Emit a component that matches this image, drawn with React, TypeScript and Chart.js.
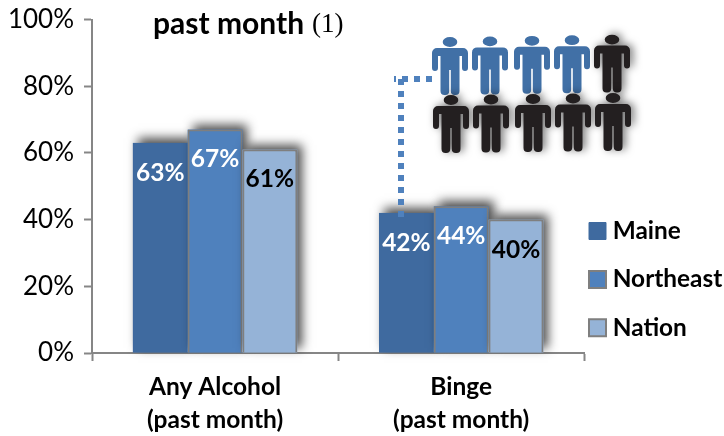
import React, { useEffect, useRef } from "react";
import { Chart, registerables } from "chart.js";

Chart.register(...registerables);

const categories = [["Any Alcohol", "(past month)"], ["Binge", "(past month)"]];
const maine = [63, 42];
const northeast = [67, 44];
const nation = [61, 40];
const seriesNames = ["Maine", "Northeast", "Nation"];
const fills = ["#3f6a9f", "#4f81bd", "#95b3d7"];
const edges = ["#3f6a9f", "#7f7f7f", "#7f7f7f"];
const labelColors = ["#ffffff", "#ffffff", "#000000"];
const titleBold = "past month";
const titleNote = "(1)";
// pictogram: two rows of five people, the first four of the top row highlighted
const peopleTop = ["#4170a6", "#4170a6", "#4170a6", "#4170a6", "#231f20"];
const peopleBottom = ["#231f20", "#231f20", "#231f20", "#231f20", "#231f20"];
const peopleColumns = [432, 472, 514, 554, 594];

function person(ctx: CanvasRenderingContext2D, x: number, y: number, color: string) {
  ctx.save();
  ctx.translate(x + 18, y);
  if (color === "#231f20") {
    ctx.shadowColor = "rgba(0,0,0,0.55)";
    ctx.shadowBlur = 8;
    ctx.shadowOffsetX = 3;
    ctx.shadowOffsetY = -1;
  }
  ctx.fillStyle = color;
  ctx.beginPath();
  ctx.ellipse(0, 5, 7.3, 4.9, 0, 0, Math.PI * 2);
  ctx.moveTo(-13, 11);
  ctx.arcTo(-18, 11, -18, 16, 5);
  ctx.lineTo(-18, 31);
  ctx.arcTo(-18, 34, -15, 34, 3);
  ctx.arcTo(-12, 34, -12, 31, 3);
  ctx.lineTo(-12, 19);
  ctx.lineTo(-9.5, 19);
  ctx.lineTo(-9.5, 54);
  ctx.arcTo(-9.5, 58, -5, 58, 4);
  ctx.arcTo(-0.8, 58, -0.8, 54, 4);
  ctx.lineTo(-0.8, 33);
  ctx.lineTo(0.8, 33);
  ctx.lineTo(0.8, 54);
  ctx.arcTo(0.8, 58, 5, 58, 4);
  ctx.arcTo(9.5, 58, 9.5, 54, 4);
  ctx.lineTo(9.5, 19);
  ctx.lineTo(12, 19);
  ctx.lineTo(12, 31);
  ctx.arcTo(12, 34, 15, 34, 3);
  ctx.arcTo(18, 34, 18, 31, 3);
  ctx.lineTo(18, 16);
  ctx.arcTo(18, 11, 13, 11, 5);
  ctx.closePath();
  ctx.fill();
  ctx.restore();
}

const decorations = {
  id: "decorations",
  afterLayout(chart: any) {
    const l = chart.legend;
    l.left = 570.5;
    l.top -= 72;
    l.bottom -= 72;
  },
  beforeDatasetsDraw(chart: any) {
    const ctx = chart.ctx;
    chart.data.datasets.forEach((_: any, i: number) => {
      const meta = chart.getDatasetMeta(i);
      ctx.save();
      ctx.shadowColor = "rgba(0,0,0,0.7)";
      ctx.shadowBlur = 10;
      ctx.shadowOffsetX = 5;
      ctx.shadowOffsetY = -5;
      ctx.fillStyle = fills[i];
      meta.data.forEach((bar: any) => {
        const { x, y, width, base } = bar.getProps(["x", "y", "width", "base"]);
        ctx.fillRect(x - width / 2, y, width, base - y);
      });
      ctx.restore();
      meta.controller.draw();
    });
  },
  beforeDatasetDraw() {
    return false;
  },
  afterDatasetsDraw(chart: any) {
    const ctx = chart.ctx;
    ctx.save();
    ctx.textAlign = "center";
    ctx.textBaseline = "middle";
    ctx.font = "bold 24.5px Lato";
    chart.data.datasets.forEach((ds: any, i: number) => {
      ctx.fillStyle = labelColors[i];
      chart.getDatasetMeta(i).data.forEach((bar: any, j: number) => {
        ctx.fillText(ds.data[j] + "%", bar.x, bar.y + 30);
      });
    });
    // title
    ctx.textAlign = "left";
    ctx.fillStyle = "#000000";
    ctx.font = "bold 30px Lato";
    ctx.fillText(titleBold, 153, 24);
    ctx.font = "27px 'Liberation Serif'";
    ctx.fillText(titleNote, 312, 25);
    // connector
    ctx.strokeStyle = "#4f81bd";
    ctx.lineWidth = 6;
    ctx.setLineDash([6, 6]);
    ctx.beginPath();
    ctx.moveTo(432, 79);
    ctx.lineTo(394, 79);
    ctx.stroke();
    ctx.beginPath();
    ctx.moveTo(401, 79);
    ctx.lineTo(401, 222);
    ctx.stroke();
    ctx.setLineDash([]);
    // pictogram
    peopleColumns.forEach((x, i) => {
      person(ctx, x, 37 - i * 0.6, peopleTop[i]);
      person(ctx, x + 1, 95 - i * 0.5, peopleBottom[i]);
    });
    ctx.restore();
  },
};

export default function App() {
  const ref = useRef<HTMLCanvasElement>(null);
  useEffect(() => {
    const chart = new Chart(ref.current!, {
      type: "bar",
      data: {
        labels: categories,
        datasets: [maine, northeast, nation].map((data, i) => ({
          label: seriesNames[i],
          data,
          backgroundColor: fills[i],
          borderColor: edges[i],
          borderWidth: i === 0 ? 1 : 2,
          categoryPercentage: 0.668,
          barPercentage: 1,
        })),
      },
      options: {
        animation: false,
        responsive: false,
        layout: { padding: { top: 19.5, right: -22, left: 0, bottom: 0 } },
        plugins: {
          title: { display: false },
          tooltip: { enabled: false },
          legend: {
            position: "right",
            align: "end",
            labels: {
              usePointStyle: true,
              pointStyle: "rect",
              boxWidth: 6,
              boxHeight: 17,
              padding: 24,
              color: "#000000",
              font: { family: "Lato", weight: "bold", size: 24.4 },
            },
          },
        },
        scales: {
          x: {
            afterFit(s: any) {
              s.height = 83;
            },
            border: { color: "#868686", width: 2 },
            grid: { drawOnChartArea: false, color: "#868686", tickLength: 8, tickWidth: 2, offset: true },
            ticks: {
              color: "#000000",
              padding: 10,
              maxRotation: 0,
              font: { family: "Lato", weight: "bold", size: 24.5, lineHeight: 1.33 },
            },
          },
          y: {
            min: 0,
            max: 100,
            afterFit(s: any) {
              s.width = 92;
              s.paddingTop = 0;
              s.paddingBottom = 0;
            },
            border: { color: "#868686", width: 2 },
            grid: { drawOnChartArea: false, color: "#868686", tickLength: 8, tickWidth: 2 },
            ticks: {
              stepSize: 20,
              color: "#000000",
              padding: 10,
              font: { family: "Lato", size: 26 },
              callback: (v: any) => v + "%",
            },
          },
        },
      },
      plugins: [decorations],
    } as any);
    return () => chart.destroy();
  }, []);
  return (
    <div style={{ position: "absolute", left: 0, top: 0 }}>
      <canvas ref={ref} width={724} height={436} style={{ display: "block" }} />
    </div>
  );
}
